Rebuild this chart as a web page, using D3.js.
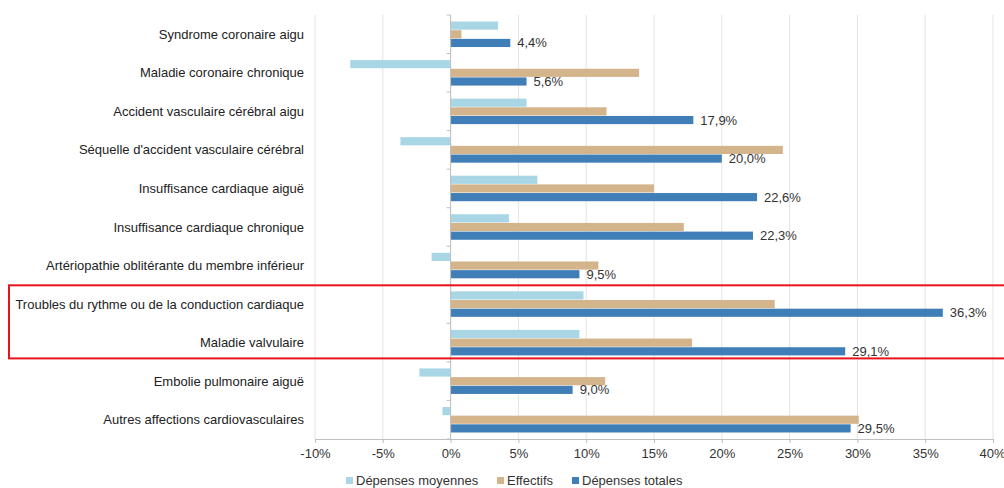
<!DOCTYPE html>
<html><head><meta charset="utf-8">
<script src="https://cdn.jsdelivr.net/npm/d3@7/dist/d3.min.js"></script>
<style>body{margin:0;background:#fff;} svg{display:block;font-family:"Liberation Sans",Arial,sans-serif;}</style>
</head><body>
<svg id="c" width="1004" height="488"></svg>
<script>
const categories = ["Syndrome coronaire aigu","Maladie coronaire chronique","Accident vasculaire cérébral aigu","Séquelle d'accident vasculaire cérébral","Insuffisance cardiaque aiguë","Insuffisance cardiaque chronique","Artériopathie oblitérante du membre inférieur","Troubles du rythme ou de la conduction cardiaque","Maladie valvulaire","Embolie pulmonaire aiguë","Autres affections cardiovasculaires"];
const depensesMoyennes = [3.5,-7.4,5.6,-3.7,6.4,4.3,-1.4,9.8,9.5,-2.3,-0.6];
const effectifs = [0.8,13.9,11.5,24.5,15.0,17.2,10.9,23.9,17.8,11.4,30.1];
const depensesTotales = [4.4,5.6,17.9,20.0,22.6,22.3,9.5,36.3,29.1,9.0,29.5];
const seriesNames = ["Dépenses moyennes","Effectifs","Dépenses totales"];
const colors = ["#a8d6e5","#d4b48b","#3f7eb6"];
const xTicks = [-10,-5,0,5,10,15,20,25,30,35,40];
const highlighted = ["Troubles du rythme ou de la conduction cardiaque","Maladie valvulaire"];

const svg = d3.select("#c");
const x = d3.scaleLinear().domain([-10,40]).range([315,993]);
const y = d3.scaleBand().domain(categories).range([15,439]);
const inner = d3.scaleBand().domain(seriesNames).range([0,25.5]).paddingInner(0.06);
const fmt = v => d3.format(".1f")(v).replace(".",",") + "%";

// gridlines
svg.append("g").selectAll("line").data(xTicks).join("line")
  .attr("x1",d=>x(d)).attr("x2",d=>x(d)).attr("y1",15).attr("y2",439)
  .attr("stroke","#e3e3e3").attr("stroke-width",1);

// bars
const series = [depensesMoyennes, effectifs, depensesTotales];
series.forEach((vals,si)=>{
  svg.append("g").selectAll("rect").data(categories).join("rect")
    .attr("x",(c,i)=>x(Math.min(0,vals[i])))
    .attr("width",(c,i)=>Math.abs(x(vals[i])-x(0)))
    .attr("y",c=>y(c)+y.bandwidth()/2-12.75+inner(seriesNames[si]))
    .attr("height",inner.bandwidth())
    .attr("fill",colors[si]);
});

// value labels
svg.append("g").selectAll("text").data(categories).join("text")
  .attr("x",(c,i)=>x(depensesTotales[i])+7)
  .attr("y",c=>y(c)+y.bandwidth()/2-12.75+inner("Dépenses totales")+inner.bandwidth()/2+4.5)
  .attr("font-size",13).attr("fill","#333")
  .text((c,i)=>fmt(depensesTotales[i]));

// x axis
const xAxis = d3.axisBottom(x).tickValues(xTicks).tickFormat(d=>d+"%").tickSize(4).tickPadding(6);
const gx = svg.append("g").attr("transform","translate(0,439)").call(xAxis);
gx.select(".domain").attr("stroke","#bfbfbf");
gx.selectAll(".tick line").attr("stroke","#bfbfbf");
gx.selectAll("text").attr("font-size",13).attr("fill","#333").attr("font-family","'Liberation Sans',Arial,sans-serif");
gx.selectAll(".tick").filter(d=>d===40).select("text").attr("text-anchor","end").attr("dx",12);

// zero axis with category ticks
const gy = svg.append("g").attr("transform",`translate(${x(0)},0)`);
gy.append("line").attr("x1",0).attr("x2",0).attr("y1",15).attr("y2",439).attr("stroke","#bfbfbf");
const bounds = categories.map(c=>y(c)).concat([439]);
gy.selectAll("line.t").data(bounds).join("line").attr("class","t")
  .attr("x1",-4).attr("x2",0).attr("y1",d=>d).attr("y2",d=>d).attr("stroke","#bfbfbf");

// category labels
svg.append("g").selectAll("text").data(categories).join("text")
  .attr("x",304).attr("y",c=>y(c)+y.bandwidth()/2+4.5)
  .attr("text-anchor","end").attr("font-size",13).attr("fill","#222")
  .text(c=>c);

// highlight box
const hy0 = y(highlighted[0]), hy1 = y(highlighted[1])+y.bandwidth();
svg.append("rect").attr("x",9).attr("y",hy0+0.5).attr("width",1010).attr("height",hy1-hy0-4)
  .attr("fill","none").attr("stroke","#e8141b").attr("stroke-width",2);

// legend
const legX = [346,497,572];
const lg = svg.append("g");
seriesNames.forEach((n,i)=>{
  lg.append("rect").attr("x",legX[i]).attr("y",477).attr("width",7).attr("height",7).attr("fill",colors[i]);
  lg.append("text").attr("x",legX[i]+10).attr("y",485).attr("font-size",13).attr("fill","#333").text(n);
});
</script>
</body></html>
